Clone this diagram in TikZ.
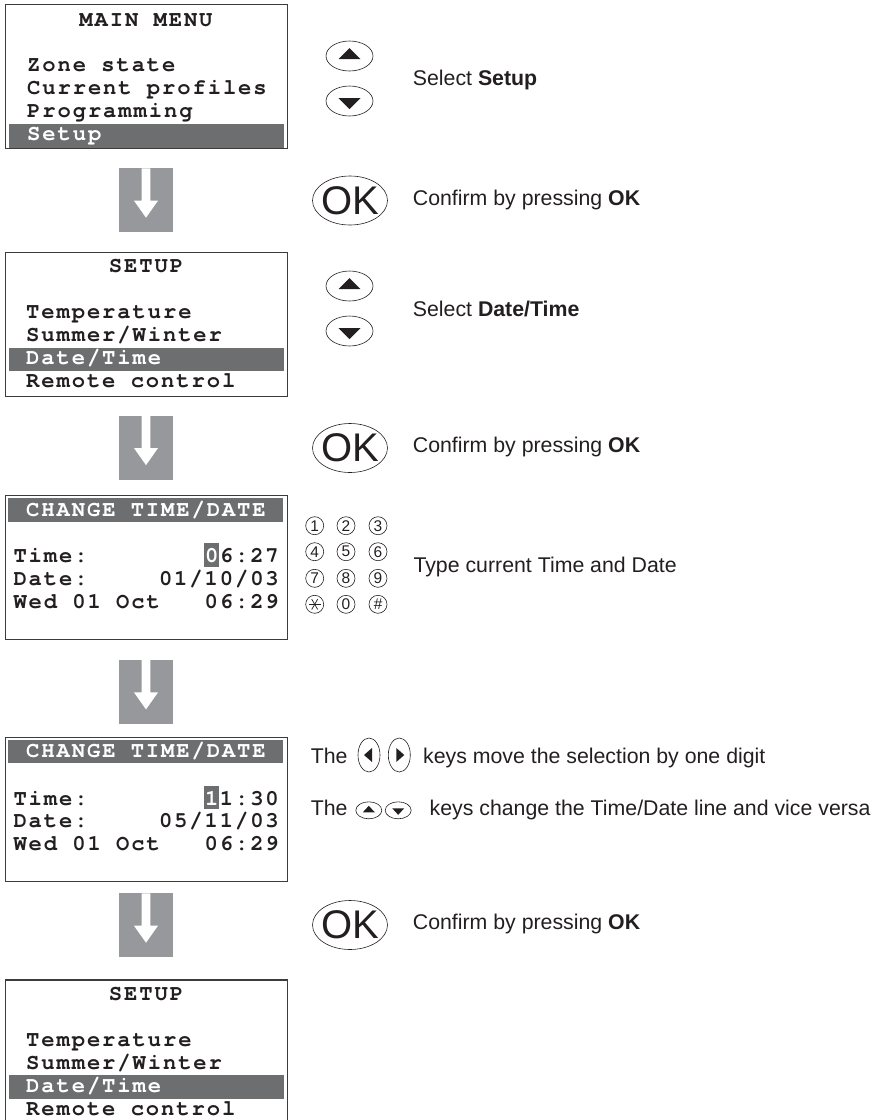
\documentclass[tikz,border=0pt]{standalone}
\usepackage{fontspec}
\setmainfont{Liberation Sans}
\newfontfamily\lcdfont{texgyrecursor-bold.otf}[LetterSpace=8.5, Ligatures={NoCommon}]
\usepackage{xcolor}
\definecolor{lcdframe}{RGB}{60,60,60}
\definecolor{lcdbarfill}{RGB}{109,110,112}
\definecolor{flowgray}{RGB}{151,152,155}
\definecolor{inkblack}{RGB}{35,31,32}
\usetikzlibrary{shapes.geometric,positioning}
\tikzset{
  lcdbox/.style={draw=lcdframe, line width=1.4pt, minimum width=282pt,
                 minimum height=144pt, inner sep=0pt, anchor=north west},
  lcd/.style={font=\lcdfont\fontsize{22.2pt}{26pt}\selectfont,
              text=inkblack, inner sep=0pt, anchor=base west},
  lcdhead/.style={lcd, anchor=base},
  lcdbar/.style={fill=lcdbarfill, inner sep=0pt, minimum width=275pt,
                 minimum height=23.6pt, anchor=north west},
  lcdsel/.style={lcd, fill=lcdbarfill, text=white, text height=19.4pt,
                 text depth=4pt, minimum width=15.3pt, anchor=base east},
  note/.style={font=\fontsize{21.3pt}{25pt}\selectfont, text=inkblack,
               inner sep=0pt, anchor=base west},
  keyoval/.style={draw=inkblack, line width=0.6pt, ellipse, inner sep=0pt,
                  minimum width=47pt, minimum height=30pt},
  upkey/.style={keyoval, path picture={\fill[inkblack]
      ([shift={(-11,3)}]path picture bounding box.center) -- ++(22,0) -- ++(-11,-11) -- cycle;}},
  downkey/.style={keyoval, path picture={\fill[inkblack]
      ([shift={(-11,-3)}]path picture bounding box.center) -- ++(22,0) -- ++(-11,11) -- cycle;}},
  smallupkey/.style={keyoval, minimum width=26pt, minimum height=17pt, path picture={\fill[inkblack]
      ([shift={(-6,2)}]path picture bounding box.center) -- ++(12,0) -- ++(-6,-6.5) -- cycle;}},
  smalldownkey/.style={keyoval, minimum width=26pt, minimum height=17pt, path picture={\fill[inkblack]
      ([shift={(-6,-2)}]path picture bounding box.center) -- ++(12,0) -- ++(-6,6.5) -- cycle;}},
  leftkey/.style={keyoval, minimum width=22pt, minimum height=34pt, path picture={\fill[inkblack]
      ([shift={(3,-7)}]path picture bounding box.center) -- ++(0,14) -- ++(-8,-7) -- cycle;}},
  rightkey/.style={keyoval, minimum width=22pt, minimum height=34pt, path picture={\fill[inkblack]
      ([shift={(-3,-7)}]path picture bounding box.center) -- ++(0,14) -- ++(8,-7) -- cycle;}},
  okkey/.style={keyoval, minimum width=75pt, minimum height=49pt,
                label={[font=\fontsize{40pt}{40pt}\selectfont, text=inkblack, inner sep=0pt]center:OK}},
  padkey/.style={draw=inkblack, line width=0.6pt, circle, inner sep=0pt, minimum size=18pt,
                 font=\fontsize{15.5pt}{15.5pt}\selectfont, text=inkblack},
  starkey/.style={path picture={\foreach \a in {0,60,120}
      \draw[inkblack, line width=0.7pt] ([shift={(\a:6)}]path picture bounding box.center)
        -- ([shift={(\a+180:6)}]path picture bounding box.center);}},
  flowdown/.pic={
    \fill[flowgray] (-27.3,0) rectangle (27.3,64);
    \fill[white] (-4.3,0) -- (-4.3,32.4) -- (-12,32.4) -- (0,49.4) -- (12,32.4)
      -- (4.3,32.4) -- (4.3,0) -- cycle;
  },
}

\begin{document}
\begin{tikzpicture}[x=1pt, y=-1pt]
\clip (0,0) rectangle (878,1120);

% Screen 1: main menu
\node[lcdbox] (menu) at (5,4) {};
\node[lcdhead] (menuhead) at (146,26) {MAIN MENU};
\node[lcd] (menuzone) at (27,71) {Zone state};
\node[lcd] (menuprof) at (27,94) {Current profiles};
\node[lcd] (menuprog) at (27,117) {Programming};
\node[lcdbar] (menubar) at (9,124) {};
\node[lcd, text=white] (menusetup) at (27,140) {Setup};

% keys: select Setup
\node[upkey] (upa) at (349.5,56) {};
\node[downkey] (downa) at (349.5,101) {};
\node[note] (selecta) at (412.7,85) {Select \textbf{Setup}};

\pic (flowa) at (146,168.3) {flowdown};
\node[okkey] (oka) at (350,200.5) {};
\node[note] (confirma) at (412.7,205) {Confirm by pressing \textbf{OK}};

% Screen 2: setup
\node[lcdbox] (setupa) at (5,251.7) {};
\node[lcdhead] (setupahead) at (146,272.7) {SETUP};
\node[lcd] (setupatemp) at (26,318) {Temperature};
\node[lcd] (setupasum) at (26,341.3) {Summer/Winter};
\node[lcdbar] (setupabar) at (9,347.3) {};
\node[lcd, text=white] (setupadate) at (26,364.7) {Date/Time};
\node[lcd] (setuparem) at (26,387.7) {Remote control};

% keys: select Date/Time
\node[upkey] (upb) at (349.5,286) {};
\node[downkey] (downb) at (349.5,331) {};
\node[note] (selectb) at (412.7,316) {Select \textbf{Date/Time}};

\pic (flowb) at (146,415.7) {flowdown};
\node[okkey] (okb) at (350,448) {};
\node[note] (confirmb) at (412.7,452.5) {Confirm by pressing \textbf{OK}};

% Screen 3: change time/date
\node[lcdbox] (changea) at (5,494.7) {};
\node[lcdbar] (changeabar) at (8,498) {};
\node[lcdhead, text=white] (changeahead) at (146,516) {CHANGE TIME/DATE};
\node[lcd] (changeatime) at (13.3,562.7) {Time:};
\node[lcd, anchor=base east] (changeatval) at (279,562.7) {6:27};
\node[lcdsel] (changeasel) at (changeatval.base west) {0};
\node[lcd] (changeadate) at (13.3,585) {Date:};
\node[lcd, anchor=base east] (changeadval) at (279,585) {01/10/03};
\node[lcd] (changeaday) at (13.3,608.3) {Wed 01 Oct};
\node[lcd, anchor=base east] (changeaclock) at (279,608.3) {06:29};

% keypad
\foreach \k/\x/\y in {1/314.7/525.7, 2/346/525.7, 3/378/525.7,
                      4/314.7/551.7, 5/346/551.7, 6/378/551.7,
                      7/314.7/578.3, 8/346/578.3, 9/378/578.3}
  \node[padkey] (pad\k) at (\x,\y) {\k};
\node[padkey, starkey] (padstar) at (314.7,604.3) {};
\node[padkey] (pad0) at (346,604.3) {0};
\node[padkey] (padhash) at (378,604.3) {\itshape\#};
\node[note] (typetext) at (413.3,572.7) {Type current Time and Date};

\pic (flowc) at (146,660) {flowdown};

% Screen 4: changed values
\node[lcdbox] (changeb) at (5,736.7) {};
\node[lcdbar] (changebbar) at (8,739.3) {};
\node[lcdhead, text=white] (changebhead) at (146,757.3) {CHANGE TIME/DATE};
\node[lcd] (changebtime) at (13.3,805) {Time:};
\node[lcd, anchor=base east] (changebtval) at (279,805) {1:30};
\node[lcdsel] (changebsel) at (changebtval.base west) {1};
\node[lcd] (changebdate) at (13.3,827.3) {Date:};
\node[lcd, anchor=base east] (changebdval) at (279,827.3) {05/11/03};
\node[lcd] (changebday) at (13.3,850.3) {Wed 01 Oct};
\node[lcd, anchor=base east] (changebclock) at (279,850.3) {06:29};

% notes on arrow keys
\node[note] (thea) at (310.6,763.7) {The};
\node[leftkey] (lefta) at (369,755) {};
\node[rightkey] (righta) at (399.3,755) {};
\node[note] (movetext) at (423,763.7) {keys move the selection by one digit};
\node[note] (theb) at (310.6,815.7) {The};
\node[smallupkey] (upc) at (368.8,810.3) {};
\node[smalldownkey] (downc) at (398.2,810.3) {};
\node[note] (changetext) at (429.5,815.7) {keys change the Time/Date line and vice versa};

\pic (flowd) at (146,893.3) {flowdown};
\node[okkey] (okc) at (350,925) {};
\node[note] (confirmc) at (412.7,929.5) {Confirm by pressing \textbf{OK}};

% Screen 5: back to setup
\node[lcdbox] (setupb) at (5,979.3) {};
\node[lcdhead] (setupbhead) at (146,1000.3) {SETUP};
\node[lcd] (setupbtemp) at (26,1046) {Temperature};
\node[lcd] (setupbsum) at (26,1069) {Summer/Winter};
\node[lcdbar] (setupbbar) at (9,1075) {};
\node[lcd, text=white] (setupbdate) at (26,1092) {Date/Time};
\node[lcd] (setupbrem) at (26,1115) {Remote control};

\end{tikzpicture}
\end{document}
